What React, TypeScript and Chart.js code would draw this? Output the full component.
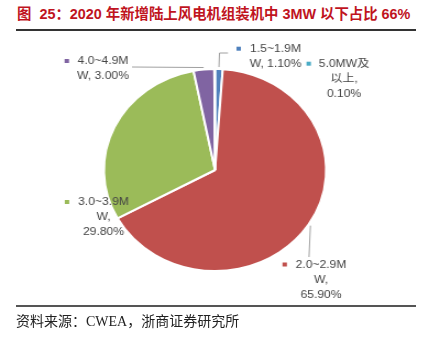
import React, { useEffect, useRef } from 'react';
import { Chart, registerables } from 'chart.js';

Chart.register(...registerables);

// ---- data ----
const CATEGORIES = ['1.5~1.9MW', '2.0~2.9MW', '3.0~3.9MW', '4.0~4.9MW', '5.0MW及以上'];
const SHARES = [1.1, 65.9, 29.8, 3.0, 0.1];
const COLORS = ['#4F81BD', '#C0504D', '#9BBB59', '#8064A2', '#4BACC6'];

const TITLE = '图  25：2020 年新增陆上风电机组装机中 3MW 以下占比 66%';
const SOURCE = '资料来源：CWEA，浙商证券研究所';

// ---- layout (page px) ----
const SX = 1.1; // horizontal stretch of the original picture
const CANVAS_W = 388;
const CANVAS_H = 341;
const LINE_H = 15;
const LABEL_LAYOUT = [
  { breaks: [8], cx: 275.5, y: 48.5, key: [238.7, 48.7], leader: [[219.5, 53], [228, 53]] },
  { breaks: [8, 10], cx: 321, y: 264.5, key: [284.7, 264.5], leader: [[309, 257]] },
  { breaks: [8, 10], cx: 103.5, y: 202, key: [67, 202], leader: null },
  { breaks: [8], cx: 103, y: 61, key: [66.8, 61], leader: [[132, 67]] },
  { breaks: [6, 9], cx: 344, y: 63.5, key: [308.7, 63.7], leader: null },
];

function labelLines(i: number): string[] {
  const s = `${CATEGORIES[i]}, ${SHARES[i].toFixed(2)}%`;
  const b = [0, ...LABEL_LAYOUT[i].breaks, s.length];
  const out: string[] = [];
  for (let k = 0; k < b.length - 1; k++) out.push(s.slice(b[k], b[k + 1]).trim());
  return out;
}

const labelPlugin = {
  id: 'excelLabels',
  afterDatasetsDraw(chart: any) {
    const ctx = chart.ctx as CanvasRenderingContext2D;
    const meta = chart.getDatasetMeta(0);
    ctx.save();
    meta.data.forEach((arc: any, i: number) => {
      const L = LABEL_LAYOUT[i];
      if (!L) return;
      const p = arc.getProps(['x', 'y', 'startAngle', 'endAngle', 'outerRadius'], true);
      const mid = (p.startAngle + p.endAngle) / 2;
      // leader line
      if (L.leader) {
        const r = p.outerRadius + 2;
        ctx.beginPath();
        ctx.strokeStyle = '#A0A0A0';
        ctx.lineWidth = 1;
        ctx.moveTo(p.x + Math.cos(mid) * r, p.y + Math.sin(mid) * r);
        L.leader.forEach(([lx, ly]) => ctx.lineTo(lx / SX, ly));
        ctx.stroke();
      }
      // legend key
      ctx.fillStyle = COLORS[i];
      ctx.fillRect(L.key[0] / SX - 2, L.key[1] - 2, 4, 4);
      // text
      ctx.fillStyle = '#454545';
      ctx.font = '11px "Liberation Sans", Arial, "Noto Sans CJK SC", sans-serif';
      ctx.textAlign = 'center';
      ctx.textBaseline = 'middle';
      labelLines(i).forEach((t, k) => ctx.fillText(t, L.cx / SX, L.y + k * LINE_H));
    });
    ctx.restore();
  },
};

export default function App() {
  const ref = useRef<HTMLCanvasElement>(null);

  useEffect(() => {
    if (!ref.current) return;
    const chart = new Chart(ref.current, {
      type: 'pie',
      data: {
        labels: CATEGORIES,
        datasets: [
          {
            data: SHARES,
            backgroundColor: COLORS,
            borderColor: '#ffffff',
            borderWidth: 2,
            radius: 101,
          } as any,
        ],
      },
      options: {
        responsive: false,
        animation: false,
        devicePixelRatio: 1,
        radius: 101,
        events: [],
        layout: { padding: { left: 3, right: 0, top: 0, bottom: 1 } },
        plugins: {
          legend: { display: false },
          tooltip: { enabled: false },
        },
      } as any,
      plugins: [labelPlugin],
    });
    return () => chart.destroy();
  }, []);

  return (
    <div
      style={{
        position: 'fixed',
        left: 0,
        top: 0,
        width: 427,
        height: 341,
        background: '#ffffff',
        overflow: 'hidden',
      }}
    >
      <div
        style={{
          position: 'absolute',
          left: 17,
          top: 5,
          fontSize: 14.4,
          lineHeight: '18px',
          fontWeight: 'bold',
          color: '#C0141E',
          whiteSpace: 'pre',
          fontFamily: '"Liberation Sans", Arial, "Noto Sans CJK SC", sans-serif',
        }}
      >
        {TITLE}
      </div>
      <div style={{ position: 'absolute', left: 16, top: 29, width: 400, height: 2, background: '#333333' }} />
      <div
        style={{
          position: 'absolute',
          left: 0,
          top: 0,
          width: CANVAS_W,
          height: CANVAS_H,
          transform: `scaleX(${SX})`,
          transformOrigin: '0 0',
        }}
      >
        <canvas ref={ref} width={CANVAS_W} height={CANVAS_H} />
      </div>
      <div style={{ position: 'absolute', left: 16, top: 305, width: 400, height: 2, background: '#555555' }} />
      <div
        style={{
          position: 'absolute',
          left: 16,
          top: 313,
          fontSize: 14,
          lineHeight: '18px',
          color: '#222222',
          whiteSpace: 'pre',
          fontFamily: '"Liberation Serif", "Times New Roman", "Noto Sans CJK SC", serif',
        }}
      >
        {SOURCE}
      </div>
    </div>
  );
}
